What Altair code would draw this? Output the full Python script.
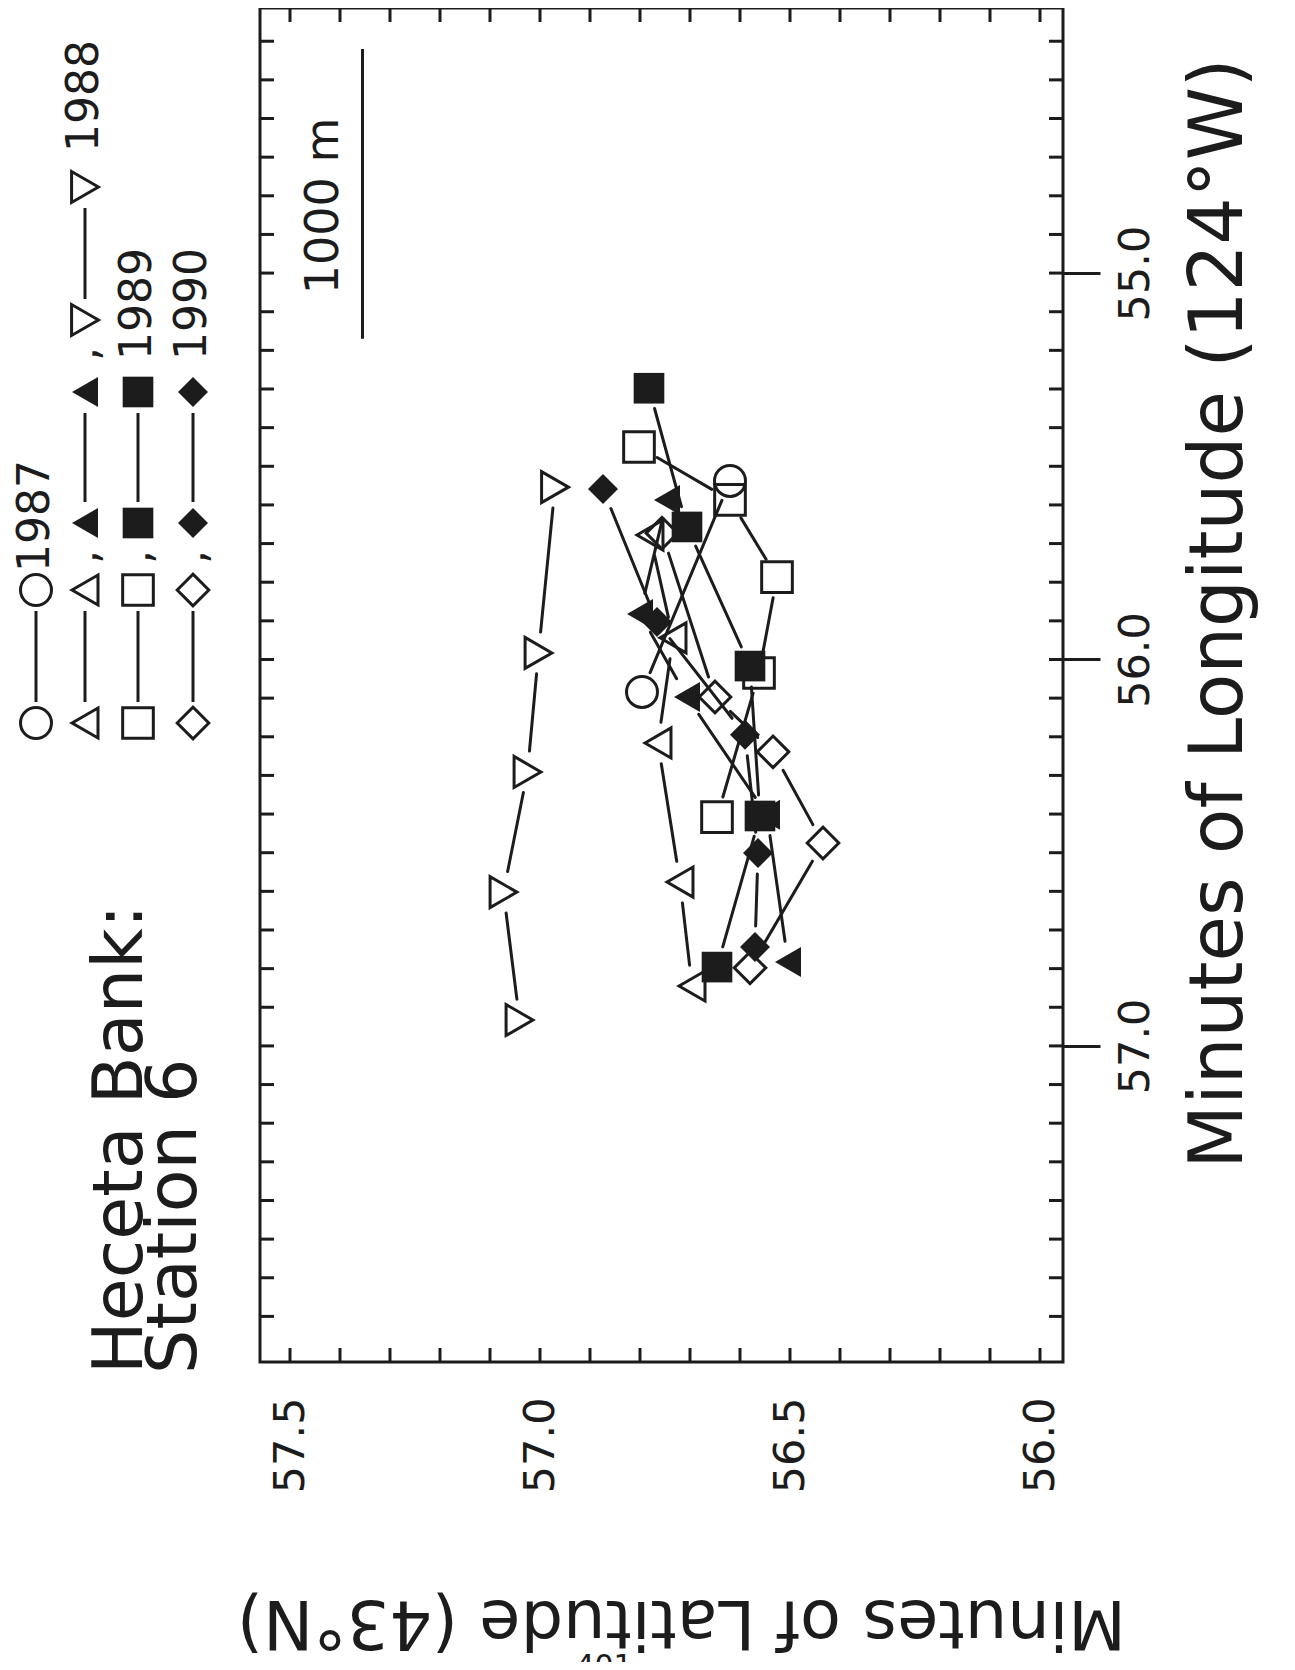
import math
import altair as alt
import pandas as pd

# ---------------- data ----------------
# Latitude = minutes of latitude (43°N); Longitude = minutes of longitude (124°W)
lat_1987_circle = [56.620, 56.796]
lon_1987_circle = [55.538, 56.084]

lat_1988_open_up = [56.780, 56.734, 56.764, 56.720, 56.696]
lon_1988_open_up = [55.678, 55.944, 56.216, 56.576, 56.845]

lat_1988_filled_up = [56.746, 56.800, 56.706, 56.546, 56.504]
lon_1988_filled_up = [55.587, 55.882, 56.097, 56.402, 56.783]

lat_1988_open_down = [56.970, 57.003, 57.025, 57.073, 57.041]
lon_1988_open_down = [55.554, 55.983, 56.291, 56.602, 56.933]

lat_1989_open = [56.802, 56.620, 56.526, 56.562, 56.646]
lon_1989_open = [55.450, 55.587, 55.787, 56.035, 56.408]

lat_1989_filled = [56.782, 56.706, 56.580, 56.560, 56.646]
lon_1989_filled = [55.298, 55.657, 56.017, 56.405, 56.796]

lat_1990_open = [56.756, 56.650, 56.534, 56.434, 56.580]
lon_1990_open = [55.673, 56.097, 56.239, 56.475, 56.798]

lat_1990_filled = [56.874, 56.766, 56.590, 56.564, 56.570]
lon_1990_filled = [55.559, 55.903, 56.195, 56.501, 56.744]

lat_tick_labels = [57.5, 57.0, 56.5, 56.0]
lon_tick_labels = [55.0, 56.0, 57.0]
lat_minor_ticks = [round(57.5 - 0.1 * i, 1) for i in range(16)]
lon_minor_ticks = [round(54.4 + 0.1 * i, 1) for i in range(34)]

scalebar_lat = [57.355]
scalebar_lon = [54.42, 55.17]   # 1000 m
scalebar_label = "1000 m"

title_lines = ["Heceta Bank:", "Station 6"]
x_title = "Minutes of Latitude (43°N)"
y_title = "Minutes of Longitude (124°W)"
page_number = "401"

# series: (year, shape, filled, lat, lon)
SERIES = [
    (1987, "circle", False, lat_1987_circle, lon_1987_circle),
    (1988, "triangle-left", False, lat_1988_open_up, lon_1988_open_up),
    (1988, "triangle-left", True, lat_1988_filled_up, lon_1988_filled_up),
    (1988, "triangle-right", False, lat_1988_open_down, lon_1988_open_down),
    (1989, "square", False, lat_1989_open, lon_1989_open),
    (1989, "square", True, lat_1989_filled, lon_1989_filled),
    (1990, "diamond", False, lat_1990_open, lon_1990_open),
    (1990, "diamond", True, lat_1990_filled, lon_1990_filled),
]

# ---------------- layout ----------------
FONT = "DejaVu Sans"
INK = "#1c1c1c"
W, H = 803, 1354
LAT_DOMAIN = [55.954, 57.56]
LON_DOMAIN = [54.314, 57.818]
PX_LAT = W / (LAT_DOMAIN[1] - LAT_DOMAIN[0])
PX_LON = H / (LON_DOMAIN[1] - LON_DOMAIN[0])
GAP = 21
TICK_IN = 14

SIZES = {"circle": 960, "square": 940, "diamond": 1000, "triangle-left": 900, "triangle-right": 960}


def msize(shape, filled):
    return 900 if (filled and shape == "diamond") else SIZES[shape]


xscale = alt.Scale(domain=LAT_DOMAIN, reverse=True, zero=False, nice=False)
yscale = alt.Scale(domain=LON_DOMAIN, reverse=True, zero=False, nice=False)

x_axis = alt.Axis(
    values=lat_tick_labels, format=".1f", labelAngle=270, labelAlign="right",
    labelBaseline="middle", labelPadding=35, ticks=False, tickSize=0, domain=False,
    grid=False, labelFontSize=43, labelFont=FONT, labelColor=INK, labelFlush=False,
    labelOverlap=False, title=x_title, titleAngle=180, titleX=421, titleY=238,
    titleAlign="center", titleBaseline="alphabetic", titleFontSize=67, titleFont=FONT,
    titleFontWeight="normal", titleColor=INK)
y_axis = alt.Axis(
    orient="right", values=lon_tick_labels, format=".1f", labelAngle=270,
    labelAlign="center", labelBaseline="top", labelPadding=14, tickSize=37, tickWidth=3,
    tickColor=INK, domain=False, grid=False, labelFontSize=43, labelFont=FONT,
    labelColor=INK, labelFlush=False, labelOverlap=False, title=y_title, titleAngle=270,
    titleX=178, titleY=605, titleAlign="center", titleBaseline="alphabetic",
    titleFontSize=74, titleFont=FONT, titleFontWeight="normal", titleColor=INK)


def X(field):
    return alt.X(field, type="quantitative", scale=xscale, axis=x_axis)


def Y(field):
    return alt.Y(field, type="quantitative", scale=yscale, axis=y_axis)


# ---------- connecting segments, shortened near the markers ----------
segs = []
for year, shape, filled, la, lo in SERIES:
    for i in range(len(la) - 1):
        a_lat, a_lon, b_lat, b_lon = la[i], lo[i], la[i + 1], lo[i + 1]
        dx = (a_lat - b_lat) * PX_LAT
        dy = (b_lon - a_lon) * PX_LON
        L = math.hypot(dx, dy)
        if L <= 2 * GAP:
            continue
        t = GAP / L
        segs.append(dict(
            lat1=a_lat + t * (b_lat - a_lat), lon1=a_lon + t * (b_lon - a_lon),
            lat2=b_lat - t * (b_lat - a_lat), lon2=b_lon - t * (b_lon - a_lon)))
seg_df = pd.DataFrame(segs)

layers = []

layers.append(alt.Chart(seg_df).mark_rule(color=INK, strokeWidth=3, strokeCap="round").encode(
    x=X("lat1"), x2="lat2", y=Y("lon1"), y2="lon2"))

# inward frame ticks (all four sides)
lat_t = pd.DataFrame({"lat": lat_minor_ticks})
lon_t = pd.DataFrame({"lon": lon_minor_ticks})
for y0, y1 in [(H, H - TICK_IN), (0, TICK_IN)]:
    layers.append(alt.Chart(lat_t).mark_rule(color=INK, strokeWidth=3).encode(
        x=X("lat"), y=alt.value(y0), y2=alt.value(y1)))
for x0, x1 in [(W, W - TICK_IN), (0, TICK_IN)]:
    layers.append(alt.Chart(lon_t).mark_rule(color=INK, strokeWidth=3).encode(
        y=Y("lon"), x=alt.value(x0), x2=alt.value(x1)))

# scale bar
sb = pd.DataFrame({"lat": scalebar_lat, "lon1": [scalebar_lon[0]], "lon2": [scalebar_lon[1]]})
layers.append(alt.Chart(sb).mark_rule(color=INK, strokeWidth=3).encode(
    x=X("lat"), y=Y("lon1"), y2="lon2"))
layers.append(alt.Chart(pd.DataFrame({"t": [scalebar_label]})).mark_text(
    angle=270, align="center", baseline="alphabetic", fontSize=46, font=FONT, color=INK
).encode(x=alt.value(78), y=alt.value(198), text="t:N"))

# markers: open first, then filled
for want_filled in (False, True):
    for year, shape, filled, la, lo in SERIES:
        if filled != want_filled:
            continue
        df = pd.DataFrame({"lat": la, "lon": lo})
        layers.append(alt.Chart(df).mark_point(
            shape=shape, filled=filled, size=msize(shape, filled), strokeWidth=3,
            color=INK, opacity=1
        ).encode(x=X("lat"), y=Y("lon")))

# title (rotated like the rest of the page)
for txt, bx in zip(title_lines, [-118, -64]):
    layers.append(alt.Chart(pd.DataFrame({"t": [txt]})).mark_text(
        angle=270, align="left", baseline="alphabetic", fontSize=70, font=FONT, color=INK
    ).encode(x=alt.value(bx), y=alt.value(1366), text="t:N"))

# ---------- hand-made rotated legend ----------
ox, oy = 260, 8
row_x = {1987: 36, 1988: 85, 1989: 138, 1990: 193}
pair_y = [(723, 590), (523, 392), (320, 187)]
comma_y = [557, 354]
text_start = {1987: 572, 1988: 152, 1989: 360, 1990: 360}

leg_pts, leg_lines, leg_text = [], [], []
for yr in [1987, 1988, 1989, 1990]:
    items = [(s, f) for (y_, s, f, _, _) in SERIES if y_ == yr]
    for k, (shape, filled) in enumerate(items):
        ya, yb = pair_y[k]
        for yy in (ya, yb):
            leg_pts.append(dict(px=row_x[yr] - ox, py=yy - oy, shape=shape,
                                filled=filled, size=msize(shape, filled)))
        leg_lines.append(dict(px=row_x[yr] - ox, py1=ya - GAP - oy, py2=yb + GAP - oy))
        if k < len(items) - 1:
            leg_text.append(dict(px=row_x[yr] - ox, py=comma_y[k] - oy, t=",", al="center"))
    leg_text.append(dict(px=row_x[yr] - ox, py=text_start[yr] - oy, t=str(yr), al="left"))

lp = pd.DataFrame(leg_pts)
ll = pd.DataFrame(leg_lines)
lt = pd.DataFrame(leg_text)

layers.append(alt.Chart(ll).mark_rule(color=INK, strokeWidth=3).encode(
    x=alt.X("px:Q", scale=None, axis=None),
    y=alt.Y("py1:Q", scale=None, axis=None), y2="py2:Q"))
for want_filled in (False, True):
    layers.append(alt.Chart(lp[lp["filled"] == want_filled]).mark_point(
        filled=want_filled, strokeWidth=3, color=INK, opacity=1
    ).encode(
        x=alt.X("px:Q", scale=None, axis=None),
        y=alt.Y("py:Q", scale=None, axis=None),
        shape=alt.Shape("shape:N", scale=None, legend=None),
        size=alt.Size("size:Q", scale=None, legend=None)))
for al in ("left", "center"):
    layers.append(alt.Chart(lt[lt["al"] == al]).mark_text(
        angle=270, align=al, baseline="middle", fontSize=44, font=FONT, color=INK
    ).encode(
        x=alt.X("px:Q", scale=None, axis=None),
        y=alt.Y("py:Q", scale=None, axis=None),
        text="t:N"))

# page number, mostly below the bottom edge as in the scan
layers.append(alt.Chart(pd.DataFrame({"t": [page_number]})).mark_text(
    align="center", baseline="top", fontSize=30, font=FONT, color=INK
).encode(x=alt.value(344), y=alt.value(1644), text="t:N"))

chart = alt.layer(*layers).properties(
    width=W, height=H,
    padding={"left": 252, "top": 0, "right": 224, "bottom": 300},
    autosize=alt.AutoSizeParams(type="none"),
    background="white",
).configure_view(stroke=INK, strokeWidth=3)

chart.save("out.html", embed_options={"renderer": "svg", "actions": False})
